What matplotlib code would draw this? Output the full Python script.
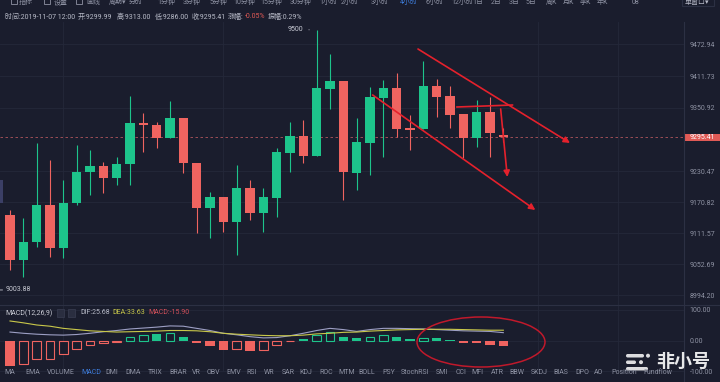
"""
BTC 4h candlestick screenshot with MACD panel, recreated with matplotlib.
"""

import matplotlib
matplotlib.use("Agg")
import matplotlib.pyplot as plt
import matplotlib.transforms as mtransforms
from matplotlib.patches import Ellipse, Rectangle, FancyBboxPatch

# ── Colors ───────────────────────────────────────────────────────────────────
BG = "#1a1d2d"
GREEN = "#1dc48b"
RED = "#ef6460"
GRID = "#24283a"
SEP = "#2c3043"
TXT = "#8e92a3"
BLUE = "#3d7bd9"
LINE_RED = "#e5212c"
DIF_COLOR = "#9d9fc4"
DEA_COLOR = "#c9c84a"

plt.rcParams["font.family"] = ["Roboto", "Noto Sans CJK SC", "DejaVu Sans"]

# ── Candles (4h) ─────────────────────────────────────────────────────────────
opens = [9146.8, 9061.0, 9095.4, 9165.9, 9083.9, 9169.7, 9228.8, 9240.3, 9217.4, 9244.1,
         9322.3, 9318.5, 9293.7, 9331.8, 9246.0, 9160.2, 9181.2, 9133.5, 9198.3, 9150.7,
         9179.3, 9265.1, 9297.5, 9259.4, 9387.1, 9402.4, 9226.9, 9284.2, 9370.0, 9389.0,
         9312.8, 9310.9, 9392.8, 9373.8, 9339.5, 9293.7, 9343.3, 9299.99]
closes = [9061.0, 9095.4, 9165.9, 9083.9, 9169.7, 9228.8, 9240.3, 9217.4, 9244.1, 9322.3,
          9318.5, 9293.7, 9331.8, 9246.0, 9160.2, 9181.2, 9133.5, 9198.3, 9150.7, 9181.2,
          9267.0, 9297.5, 9259.4, 9389.0, 9402.4, 9228.8, 9286.1, 9371.9, 9389.0, 9310.9,
          9308.9, 9392.8, 9371.9, 9337.6, 9293.7, 9343.3, 9303.2, 9295.41]
highs = [9156.4, 9141.1, 9284.2, 9251.7, 9213.6, 9280.4, 9270.8, 9247.9, 9257.5, 9373.8,
         9341.4, 9324.2, 9364.2, 9331.8, 9246.0, 9190.7, 9181.2, 9242.2, 9213.6, 9198.3,
         9274.6, 9324.2, 9328.0, 9500.0, 9453.9, 9402.4, 9331.8, 9390.9, 9404.3, 9417.6,
         9337.6, 9440.5, 9406.2, 9392.8, 9339.5, 9366.2, 9371.9, 9313.00]
lows = [9042.0, 9028.6, 9085.8, 9066.8, 9064.8, 9165.9, 9185.0, 9188.8, 9204.1, 9204.1,
        9267.0, 9274.6, 9293.7, 9226.9, 9112.5, 9103.0, 9114.4, 9070.6, 9137.3, 9114.4,
        9143.0, 9228.8, 9246.0, 9259.4, 9349.0, 9175.5, 9194.5, 9223.1, 9257.5, 9295.6,
        9270.8, 9310.9, 9333.7, 9312.8, 9255.6, 9276.5, 9257.5, 9286.00]

price_ticks = [9472.94, 9411.73, 9350.92, 9230.47, 9170.82, 9111.57, 9052.69, 8994.20]
last_price = 9295.41
peak_price = 9500
visible_low = 9003.88

# ── MACD(12,26,9) ────────────────────────────────────────────────────────────
macd_hist = [-81, -76, -59, -59, -44, -28, -14, -9, -3, 13,
             20, 21, 24, 11, -9, -17, -29, -26, -33, -29,
             -14, -2, 4, 19, 28, 13, 10, 13, 20, 11,
             6, 9, 9, 3, -8, -8, -14, -16]
macd_filled = [1, 0, 0, 0, 0, 0, 0, 0, 0, 0,
               0, 1, 0, 1, 1, 1, 1, 0, 1, 0,
               0, 0, 1, 0, 0, 1, 1, 0, 0, 1,
               1, 0, 1, 1, 1, 1, 1, 1]
dif = [28, 24, 21, 19, 18, 20, 24, 29, 33, 38,
       41, 44, 48, 47, 40, 33, 24, 19, 13, 9,
       10, 16, 24, 33, 40, 36, 30, 36, 40, 40,
       39, 38, 36, 34, 32, 31, 30, 26]
dea = [64, 58, 51, 47, 40, 36, 32, 30, 28, 29,
       30, 31, 33, 33, 32, 29, 24, 21, 19, 17,
       16, 16, 18, 22, 24, 27, 28, 31, 33, 35,
       36, 37, 37, 37, 36, 35, 34, 34]
macd_ticks = [100, 0, -100]

# ── Hand-drawn trend lines (candle index, price) ─────────────────────────────
trend_lines = [((30.6, 9463.4), (42.0, 9284.2), True),
               ((27.2, 9375.7), (39.4, 9156.4), True),
               ((33.5, 9352.8), (37.7, 9356.6), False),
               ((36.8, 9349.0), (37.3, 9219.3), True)]
vgrid_idx = [4, 16, 39.6, 45.6]

# ── UI text ──────────────────────────────────────────────────────────────────
toolbar_labels = ["指标", "设置", "画线", "周期▾", "分时", "1分钟", "3分钟", "5分钟", "10分钟",
                  "15分钟", "30分钟", "1小时", "2小时", "3小时", "4小时", "6小时", "12小时",
                  "1日", "2日", "3日", "5日", "周K", "月K", "季K", "年K", "08"]
toolbar_x = [26, 61, 93, 118, 136, 166, 192, 218, 244, 271, 301, 328, 350, 380, 409, 434,
             462, 478, 496, 514, 531, 551, 568, 585, 602, 636]
info_labels = ["时间:2019-11-07 12:00", "开:9299.99", "高:9313.00", "低:9286.00",
               "收:9295.41", "涨幅:", "-0.05%", "振幅:0.29%"]
info_x = [5, 78, 117, 155, 192, 228, 245, 268]
tab_labels = ["MA", "EMA", "VOLUME", "MACD", "DMI", "DMA", "TRIX", "BRAR", "VR", "OBV",
              "EMV", "RSI", "WR", "SAR", "KDJ", "ROC", "MTM", "BOLL", "PSY", "StochRSI",
              "SMI", "CCI", "MFI", "ATR", "BBW", "SKDJ", "BIAS", "DPO", "AO", "Position",
              "Fundflow"]
tab_x = [10, 33, 61, 91, 112, 133, 155, 178, 196, 213, 234, 252, 269, 288, 306, 326, 347,
         367, 389, 415, 442, 461, 477, 497, 517, 539, 561, 582, 599, 624, 658]

W, H = 720, 382


def px_rect(x0, y0, x1, y1):
    return [x0 / W, 1 - y1 / H, (x1 - x0) / W, (y1 - y0) / H]


fig = plt.figure(figsize=(7.2, 3.82), dpi=100, facecolor=BG)

# ── Price panel ──────────────────────────────────────────────────────────────
ax = fig.add_axes(px_rect(0, 22, 684, 305))
ax.set_facecolor(BG)
for s in ax.spines.values():
    s.set_visible(False)
ax.set_xlim(-0.75, 50.55)
ax.set_ylim(8975.2, 9514.9)
ax.yaxis.tick_right()
ax.set_yticks(price_ticks)
ax.set_yticklabels([f"{v:.2f}" for v in price_ticks])
ax.tick_params(axis="y", length=0, pad=4, labelsize=5, labelcolor=TXT)
ax.set_xticks([])
ax.grid(axis="y", color=GRID, linewidth=0.6)
for xi in vgrid_idx:
    ax.axvline(xi, color=GRID, linewidth=0.6, zorder=0)

idx = range(len(opens))
colors = [GREEN if c >= o else RED for o, c in zip(opens, closes)]
bottoms = [min(o, c) for o, c in zip(opens, closes)]
heights = [max(abs(c - o), 1.6) for o, c in zip(opens, closes)]
ax.vlines(idx, lows, highs, colors=colors, linewidth=0.8, zorder=2)
ax.bar(idx, heights, bottom=bottoms, width=0.72, color=colors, zorder=3)

ax.axhline(last_price, color="#b0545c", linewidth=0.6, linestyle=(0, (3, 3)), zorder=1)
blend = mtransforms.blended_transform_factory(ax.transAxes, ax.transData)
ax.add_patch(Rectangle((1.0015, last_price - 6.8), 0.052, 13.6, transform=blend,
                       facecolor="#e05a56", edgecolor="none", clip_on=False))
ax.text(1.027, last_price, f"{last_price:.2f}", transform=blend, ha="center",
        va="center", fontsize=5, color="white", clip_on=False)

peak_i = highs.index(peak_price)
ax.annotate(f"{peak_price}", xy=(peak_i - 0.35, peak_price), xytext=(peak_i - 1.0, peak_price),
            ha="right", va="center", fontsize=5, color="#c8cad4",
            arrowprops=dict(arrowstyle="-", color="#c8cad4", lw=0.6))
ax.annotate(f"{visible_low:.2f}", xy=(-0.75, visible_low), xytext=(-0.35, visible_low),
            ha="left", va="center", fontsize=5, color="#c8cad4",
            arrowprops=dict(arrowstyle="-", color="#c8cad4", lw=0.6))

for start, end, head in trend_lines:
    style = "-|>" if head else "-"
    ax.annotate("", xy=end, xytext=start,
                arrowprops=dict(arrowstyle=style, color=LINE_RED, lw=1.2,
                                mutation_scale=9, shrinkA=0, shrinkB=0), zorder=5)

# ── MACD panel ───────────────────────────────────────────────────────────────
ax2 = fig.add_axes(px_rect(0, 305, 684, 372))
ax2.set_facecolor(BG)
for s in ax2.spines.values():
    s.set_visible(False)
ax2.set_xlim(-0.75, 50.55)
ax2.set_ylim(-102, 116)
ax2.yaxis.tick_right()
ax2.set_yticks(macd_ticks)
ax2.set_yticklabels([f"{v:.2f}" for v in macd_ticks])
ax2.tick_params(axis="y", length=0, pad=4, labelsize=5, labelcolor=TXT)
ax2.set_xticks([])
ax2.grid(axis="y", color=GRID, linewidth=0.6)
for xi in vgrid_idx:
    ax2.axvline(xi, color=GRID, linewidth=0.6, zorder=0)

for i, (v, f) in enumerate(zip(macd_hist, macd_filled)):
    col = GREEN if v >= 0 else RED
    ax2.bar(i, v, width=0.72 if f else 0.66, color=col if f else BG,
            edgecolor=col, linewidth=0 if f else 0.8, zorder=3)
ax2.plot(idx, dif, color=DIF_COLOR, linewidth=0.8, zorder=4)
ax2.plot(idx, dea, color=DEA_COLOR, linewidth=0.8, zorder=4)

# ── Overlay: chrome, labels, annotations ─────────────────────────────────────
ov = fig.add_axes([0, 0, 1, 1])
ov.set_xlim(0, W)
ov.set_ylim(H, 0)
ov.axis("off")
ov.patch.set_alpha(0)

ov.plot([0, W], [305, 305], color=SEP, linewidth=0.8)
ov.plot([684, 684], [22, H], color=SEP, linewidth=0.8)

for lab, x in zip(toolbar_labels, toolbar_x):
    ov.text(x, 2.5, lab, ha="center", va="center", fontsize=5,
            color=BLUE if lab == "4小时" else TXT)
for x in [14, 47, 79]:
    ov.add_patch(Rectangle((x - 3, -2), 6, 6, facecolor="none", edgecolor=TXT, linewidth=0.6))
ov.add_patch(Rectangle((682, -3), 32, 9, facecolor="none", edgecolor=SEP, linewidth=0.8))
ov.text(697, 2.5, "单窗口▾", ha="center", va="center", fontsize=5, color="#b8bbc8")

for lab, x in zip(info_labels, info_x):
    ov.text(x, 17, lab, ha="left", va="center", fontsize=5,
            color="#e05a56" if lab.startswith("-") else "#b8bbc8")

ov.add_patch(Rectangle((0, 180), 3, 23, facecolor="#3b3f66", edgecolor="none"))

ov.text(5, 313, "MACD(12,26,9)", ha="left", va="center", fontsize=5, color="#c8cad4")
for x in [57, 68]:
    ov.add_patch(Rectangle((x, 309), 7, 8, facecolor="#2a2e40", edgecolor="#3a3e52", linewidth=0.5))
ov.text(80, 313, "DIF:25.68", ha="left", va="center", fontsize=5, color="#b8bbc8")
ov.text(112, 313, "DEA:33.63", ha="left", va="center", fontsize=5, color=DEA_COLOR)
ov.text(148, 313, "MACD:-15.90", ha="left", va="center", fontsize=5, color="#d2505a")

for lab, x in zip(tab_labels, tab_x):
    ov.text(x, 373, lab, ha="center", va="center", fontsize=5,
            color=BLUE if lab == "MACD" else TXT)

ov.add_patch(Ellipse((481, 342), 128, 50, facecolor="none", edgecolor="#c0192b", linewidth=1.1))

# watermark
for (x0, y0, w) in [(626, 354, 18), (626, 360.5, 10), (626, 367, 22)]:
    ov.add_patch(FancyBboxPatch((x0, y0), w, 3.5, boxstyle="round,pad=0,rounding_size=1.7",
                                facecolor="white", edgecolor="none", alpha=0.85))
for (x0, y0) in [(648, 355.7), (641, 362.2)]:
    ov.add_patch(Ellipse((x0, y0), 4, 4, facecolor="white", edgecolor="none", alpha=0.85))
ov.text(683, 362, "非小号", ha="center", va="center", fontsize=13, color="white",
        alpha=0.9, fontweight="bold")

fig.savefig("out.png", dpi=100, facecolor=BG)
